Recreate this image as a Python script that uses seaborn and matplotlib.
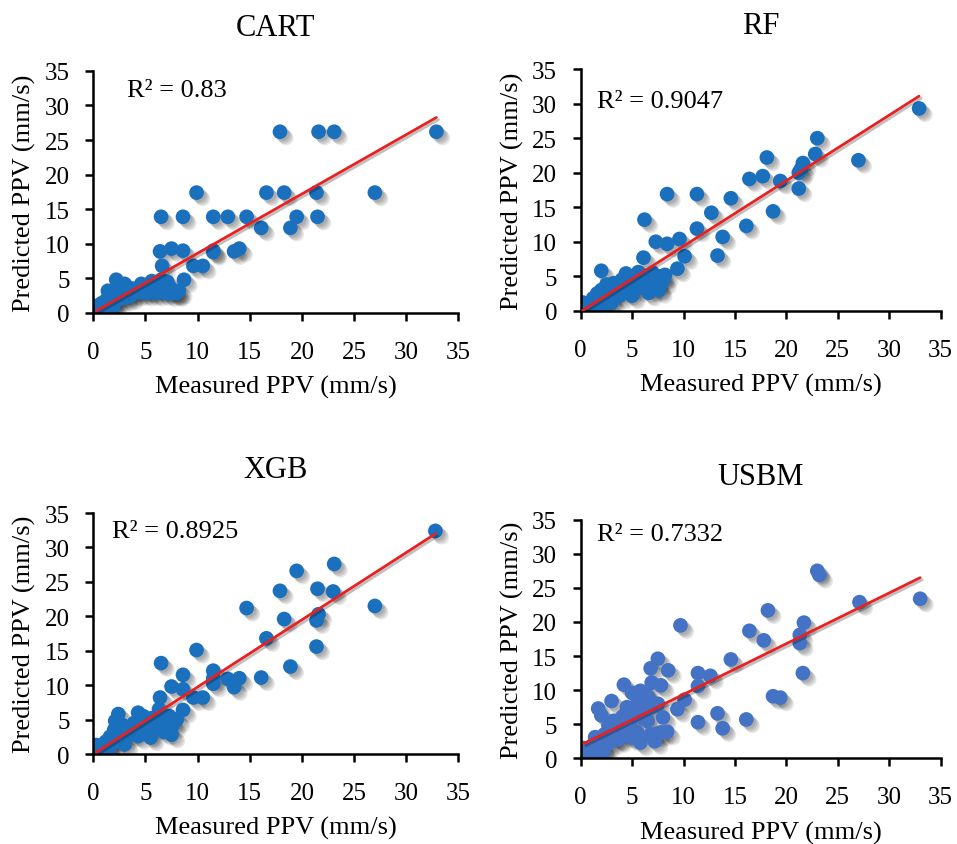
import numpy as np
import pandas as pd
import seaborn as sns
import matplotlib.pyplot as plt
import matplotlib.patheffects as pe

# ---- data ----
titles = ['CART', 'RF', 'XGB', 'USBM']
r2_labels = ['R² = 0.83', 'R² = 0.9047', 'R² = 0.8925', 'R² = 0.7332']

cart_x = [32.9, 17.9, 21.6, 23.1, 27.0, 21.4, 18.3, 16.6, 9.9, 21.5, 19.5, 18.9, 16.1,
          14.7, 12.9, 11.5, 8.6, 6.5, 14.0, 13.5, 11.5, 11.5, 8.6, 7.5, 6.4, 9.6, 10.5,
          6.6, 8.7, 8.0,
          0.3, 0.5, 0.7, 0.9, 1.0, 1.2, 1.3, 1.5, 1.6, 1.8, 1.9, 2.0, 2.1, 2.2, 2.3, 2.5,
          2.6, 2.8, 3.0, 3.2, 3.4, 3.6, 3.8, 4.0, 4.3, 4.5, 4.8, 5.0, 5.2, 5.5, 5.8, 6.0,
          6.3, 6.6, 6.8, 7.0, 7.2, 7.4, 7.6, 7.8, 6.5, 5.6, 3.0, 1.6, 1.2, 0.8, 1.4, 4.6,
          5.4, 6.2, 7.1, 8.2, 2.4, 3.5]
cart_y = [26.2, 26.2, 26.2, 26.2, 17.4, 17.4, 17.4, 17.4, 17.4, 13.9, 13.9, 12.3, 12.3,
          13.9, 13.9, 13.9, 13.9, 13.9, 9.3, 8.9, 9.0, 8.8, 9.0, 9.3, 8.9, 6.8, 6.8,
          6.8, 4.8, 2.9,
          1.0, 0.6, 0.3, 0.8, 0.2, 1.0, 0.5, 0.2, 1.2, 2.0, 0.9, 3.0, 1.9, 4.8, 3.5, 2.0,
          3.0, 3.5, 2.2, 3.0, 3.6, 2.9, 3.5, 2.9, 3.6, 3.0, 3.5, 2.9, 3.4, 3.0, 3.6, 2.9,
          3.5, 3.0, 4.0, 3.3, 2.8, 3.6, 3.0, 2.9, 4.8, 4.6, 4.2, 2.8, 1.8, 1.4, 3.2, 4.2,
          3.8, 4.4, 4.5, 3.2, 2.6, 2.4]

rf_x = [32.9, 23.0, 22.8, 18.1, 27.0, 21.6, 21.4, 21.2, 19.4, 17.7, 16.4, 21.2, 18.7,
        16.1, 14.6, 12.7, 11.3, 11.3, 8.4, 13.8, 13.3, 9.6, 8.4, 7.3, 6.2, 10.1, 9.4,
        6.1, 2.0,
        0.2, 0.5, 0.8, 1.0, 1.2, 1.4, 1.6, 1.8, 2.0, 2.3, 2.5, 2.7, 3.0, 3.2, 3.5, 3.8,
        4.0, 4.2, 4.5, 4.7, 5.0, 5.0, 5.3, 5.5, 5.8, 6.0, 6.2, 6.5, 6.8, 7.0, 7.3, 7.5,
        7.8, 8.0, 8.2, 3.0, 1.5, 2.2, 0.6, 5.6, 6.6, 7.6, 4.4]
rf_y = [29.3, 25.0, 22.7, 22.2, 21.8, 21.4, 20.5, 20.0, 18.8, 19.5, 19.1, 17.7, 14.4,
        12.3, 16.3, 14.2, 16.9, 11.9, 16.9, 10.7, 8.0, 10.4, 9.7, 10.0, 13.2, 7.9, 6.1,
        7.7, 5.8,
        1.2, 0.5, 1.0, 0.3, 1.8, 0.7, 2.5, 1.4, 3.0, 2.0, 3.8, 1.5, 2.5, 4.0, 3.0, 2.2,
        4.5, 3.5, 2.8, 4.8, 2.2, 3.8, 5.0, 3.2, 4.2, 5.2, 3.7, 4.7, 3.2, 5.5, 4.2, 3.5,
        5.0, 4.3, 5.2, 1.2, 0.5, 0.9, 0.2, 5.6, 2.6, 3.0, 5.4]

xgb_x = [32.8, 23.1, 19.5, 17.9, 21.5, 23.0, 27.0, 14.7, 18.3, 21.6, 21.4, 16.6, 21.4,
         18.9, 16.1, 9.9, 6.5, 11.5, 11.5, 11.5, 12.9, 14.0, 13.5, 8.6, 7.5, 8.6, 9.6,
         10.5, 6.4, 8.6,
         0.3, 0.5, 0.8, 1.0, 1.2, 1.4, 1.6, 1.8, 2.0, 2.2, 2.4, 2.6, 2.8, 3.0, 3.3, 3.6,
         3.9, 4.3, 4.6, 5.0, 5.3, 5.6, 6.0, 6.3, 6.6, 7.0, 7.3, 7.6, 8.0, 2.4, 4.3, 1.5,
         3.0, 5.5, 6.8, 7.5, 0.6, 2.1, 4.8]
xgb_y = [32.4, 27.6, 26.6, 23.7, 24.0, 23.6, 21.5, 21.2, 19.6, 20.3, 19.4, 16.8, 15.6,
         12.7, 11.1, 15.1, 13.2, 12.1, 11.0, 10.2, 10.9, 11.0, 9.7, 11.5, 9.8, 9.4, 8.2,
         8.2, 8.2, 6.4,
         1.3, 0.6, 1.0, 0.3, 1.8, 0.8, 2.5, 1.5, 3.5, 2.2, 5.8, 3.0, 4.2, 2.5, 3.8, 3.0,
         4.5, 6.0, 3.5, 4.5, 3.0, 5.2, 4.0, 6.5, 4.8, 3.8, 5.5, 4.2, 5.0, 2.0, 2.6, 0.5,
         1.4, 2.4, 3.2, 2.8, 0.2, 4.8, 5.5]

usbm_x = [23.0, 23.2, 33.0, 27.1, 18.2, 21.7, 21.3, 21.3, 16.4, 17.8, 9.7, 14.6, 21.6,
          18.7, 19.4, 16.1, 13.3, 13.8, 11.4, 11.4, 12.6, 11.4, 10.1, 9.4, 7.5, 6.8, 8.5,
          6.9, 7.8, 4.2, 5.0, 5.8, 6.6, 7.5, 3.0, 1.7, 2.0, 4.2, 5.0, 6.1, 8.4, 7.4, 5.8,
          5.5, 2.7, 1.4, 3.7, 0.3,
          0.5, 0.8, 1.0, 1.2, 1.5, 1.8, 2.0, 2.3, 2.5, 2.8, 3.0, 3.2, 3.5, 3.8, 4.0, 4.3,
          4.5, 4.8, 5.0, 5.3, 5.5, 6.0, 6.3, 6.5, 6.8, 7.0, 7.2, 7.8, 8.0, 1.1, 1.6, 2.2]
usbm_y = [27.5, 26.9, 23.4, 22.9, 21.7, 19.9, 18.1, 16.9, 18.7, 17.3, 19.5, 14.5, 12.5,
          9.1, 8.9, 5.7, 6.6, 4.4, 5.3, 12.5, 12.1, 10.6, 8.6, 7.2, 14.6, 13.2, 12.9,
          11.1, 10.7, 10.8, 9.6, 9.9, 8.9, 8.0, 8.4, 7.3, 6.3, 6.3, 7.2, 5.8, 3.9, 3.6, 2.3,
          3.8, 4.8, 3.1, 2.8, 1.5,
          0.8, 1.5, 0.5, 2.0, 1.0, 2.8, 1.5, 3.5, 2.0, 4.0, 2.5, 5.5, 3.0, 4.5, 6.0, 3.5,
          7.5, 5.0, 3.0, 6.5, 8.0, 7.0, 9.5, 5.5, 3.5, 7.5, 2.5, 3.8, 6.0, 0.3, 0.4, 1.0]

xs = [cart_x, rf_x, xgb_x, usbm_x]
ys = [cart_y, rf_y, xgb_y, usbm_y]
dot_colors = ['#1b70bd', '#1b70bd', '#1b70bd', '#4472c4']
r2_pos = [(3.2, 32.3), (1.6, 30.4), (1.8, 32.4), (1.6, 32.9)]

# axes boxes in figure fractions [left, bottom, width, height]
boxes = [[0.0975, 0.6285, 0.3814, 0.2864],
         [0.6068, 0.631, 0.3762, 0.286],
         [0.0975, 0.1065, 0.3814, 0.2852],
         [0.6068, 0.1014, 0.3762, 0.2824]]

sns.set_style('white')
plt.rcParams['font.family'] = ['Liberation Serif', 'DejaVu Serif']
plt.rcParams['text.color'] = 'black'
plt.rcParams['axes.labelcolor'] = 'black'

fig = plt.figure(figsize=(9.57, 8.45), dpi=100)

# soft shadow: a few stacked offsets, faint each
dot_shadow = [pe.SimplePatchShadow(offset=(o, -o), shadow_rgbFace='#404040', alpha=0.13)
              for o in (1.5, 2.5, 3.5, 4.5)] + [pe.Normal()]
line_shadow = [pe.SimpleLineShadow(offset=(1.5, -1.5), alpha=0.25), pe.Normal()]

for i in range(4):
    ax = fig.add_axes(boxes[i])
    df = pd.DataFrame({'measured': xs[i], 'predicted': ys[i]})

    sns.scatterplot(data=df, x='measured', y='predicted', ax=ax, s=112,
                    color=dot_colors[i], edgecolor='none', linewidth=0,
                    path_effects=dot_shadow, zorder=2)
    sns.regplot(data=df, x='measured', y='predicted', ax=ax, scatter=False, ci=None,
                line_kws={'color': '#e8201f', 'lw': 2.0, 'zorder': 3,
                          'path_effects': line_shadow})

    ax.set_xlim(0, 35)
    ax.set_ylim(0, 35)
    ax.set_xticks(range(0, 36, 5))
    ax.set_yticks(range(0, 36, 5))
    sns.despine(ax=ax)
    for sp in ['left', 'bottom']:
        ax.spines[sp].set_linewidth(1.8)
        ax.spines[sp].set_color('black')
    ax.tick_params(axis='both', direction='out', length=6, width=1.8, colors='black',
                   labelsize=18, bottom=True, left=True)
    ax.tick_params(axis='y', pad=11)
    ax.tick_params(axis='x', pad=14)

    ax.set_title(titles[i], fontsize=22, pad=26)
    ax.set_xlabel('Measured PPV (mm/s)', fontsize=19, labelpad=9)
    ax.set_ylabel('Predicted PPV (mm/s)', fontsize=19, labelpad=6)
    ax.text(r2_pos[i][0], r2_pos[i][1], r2_labels[i], fontsize=19, va='center', ha='left')

fig.savefig('out.png', dpi=100)
